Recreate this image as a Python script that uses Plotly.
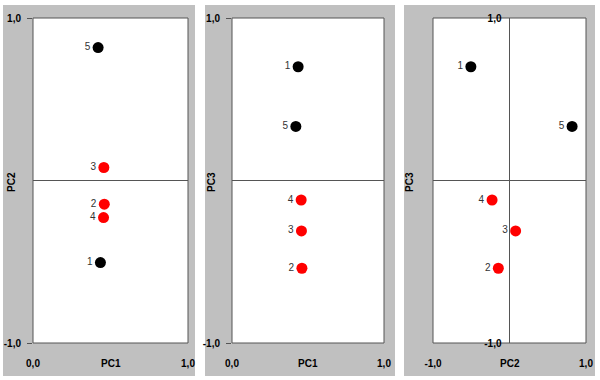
import plotly.graph_objects as go

# ---- data ----
labels = ["1", "2", "3", "4", "5"]
pc1 = [0.435, 0.46, 0.457, 0.455, 0.42]
pc2 = [-0.505, -0.146, 0.08, -0.228, 0.818]
pc3 = [0.70, -0.54, -0.31, -0.12, 0.333]
groups = ["black", "red", "red", "red", "black"]

panels = [
    # (x values, y values, x title, y title, x range)
    (pc1, pc2, "PC1", "PC2", [0, 1]),
    (pc1, pc3, "PC1", "PC3", [0, 1]),
    (pc2, pc3, "PC2", "PC3", [-1, 1]),
]
xtick_text = {0: "0,0", 1: "1,0", -1: "-1,0"}

W, H = 600, 380
plot_px = [(33, 188), (232, 384), (433, 586)]   # plot-area x pixels
gray_px = [(3, 195), (205, 395), (404, 595)]     # gray panel x pixels
top_px, bot_px = 18, 343
gray_top, gray_bot = 5, 376
ytitle_px = [12, 212, 410]

color_map = {"black": "#000000", "red": "#ff0000"}
colors = [color_map[g] for g in groups]

FAM = "Liberation Sans, Arial, sans-serif"
fig = go.Figure()
shapes = []
annotations = []
font_bold = dict(family=FAM, size=10, color="#000000", weight="bold")

for i, (xv, yv, xt, yt, xr) in enumerate(panels):
    n = "" if i == 0 else str(i + 1)
    xa, ya = "x" + n, "y" + n
    fig.add_trace(go.Scatter(
        x=xv, y=yv, xaxis=xa, yaxis=ya, mode="markers+text",
        text=labels, textposition="middle left",
        textfont=dict(family=FAM, size=10, color="#333333", weight="normal"),
        marker=dict(size=11, color=colors), showlegend=False, cliponaxis=False,
    ))
    x0, x1 = plot_px[i]
    gx0, gx1 = gray_px[i]
    # gray panel background
    shapes.append(dict(type="rect", xref="paper", yref="paper", layer="below",
                       x0=gx0 / W, x1=gx1 / W, y0=1 - gray_bot / H, y1=1 - gray_top / H,
                       fillcolor="#c0c0c0", line=dict(width=0)))
    # white plot area with border
    shapes.append(dict(type="rect", xref=xa + " domain", yref=ya + " domain", layer="below",
                       x0=0, x1=1, y0=0, y1=1, fillcolor="#ffffff",
                       line=dict(color="#555555", width=1)))

    xaxis = dict(domain=[x0 / W, x1 / W], range=xr, anchor=ya, automargin=False,
                 tickvals=xr, ticktext=[xtick_text[v] for v in xr],
                 ticks="", ticklabelstandoff=13, tickfont=font_bold,
                 showgrid=False, showline=False, fixedrange=True,
                 zeroline=(xr[0] < 0), zerolinecolor="#555555", zerolinewidth=1)
    yaxis = dict(domain=[1 - bot_px / H, 1 - top_px / H], range=[-1, 1], automargin=False,
                 tickvals=[-1, 1], ticktext=["-1,0", "1,0"], tickfont=font_bold,
                 showgrid=False, showline=False, fixedrange=True,
                 zeroline=True, zerolinecolor="#555555", zerolinewidth=1)
    if xr[0] < 0:
        yaxis.update(anchor="free", position=((x0 + x1) / 2) / W, ticks="",
                     ticklabelstandoff=8)
    else:
        yaxis.update(anchor=xa, ticks="outside", ticklen=5, tickcolor="#555555",
                     tickwidth=1, ticklabelstandoff=4)
    fig.update_layout(**{"xaxis" + n: xaxis, "yaxis" + n: yaxis})

    annotations.append(dict(text=xt, xref=xa + " domain", yref="paper",
                            x=0.5, y=1 - 363 / H, xanchor="center", yanchor="middle",
                            showarrow=False, font=font_bold))
    annotations.append(dict(text=yt, xref="paper", yref="paper",
                            x=ytitle_px[i] / W, y=1 - 182 / H, textangle=-90,
                            xanchor="center", yanchor="middle",
                            showarrow=False, font=font_bold))

fig.update_layout(width=W, height=H, margin=dict(l=0, r=0, t=0, b=0, pad=0),
                  paper_bgcolor="#ffffff", plot_bgcolor="#ffffff",
                  shapes=shapes, annotations=annotations,
                  font=font_bold)
fig.write_html("out.html", config={"displayModeBar": False},
               post_script="document.body.style.margin='0';"
                           "document.body.style.overflow='hidden';")
